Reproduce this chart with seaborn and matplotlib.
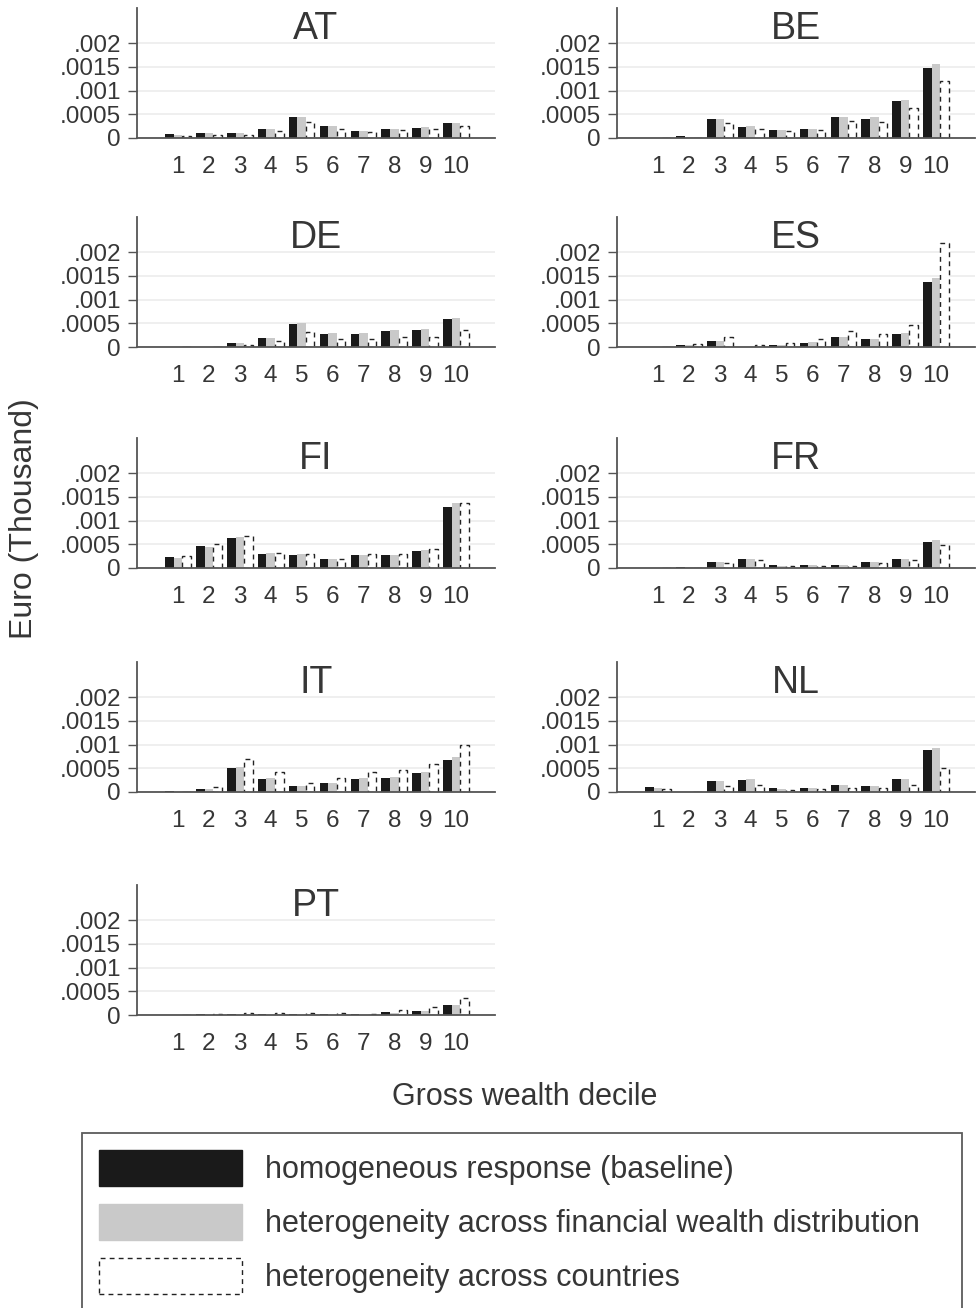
import numpy as np
import pandas as pd
import matplotlib
matplotlib.use("Agg")
import matplotlib.pyplot as plt
import seaborn as sns
from matplotlib.patches import Patch

# ---------------- data ----------------
countries = ["AT", "BE", "DE", "ES", "FI", "FR", "IT", "NL", "PT"]
deciles = ["1", "2", "3", "4", "5", "6", "7", "8", "9", "10"]
series = [
    "homogeneous response (baseline)",
    "heterogeneity across financial wealth distribution",
    "heterogeneity across countries",
]
ytick_vals = [0, 0.0005, 0.001, 0.0015, 0.002]
ytick_labels = ["0", ".0005", ".001", ".0015", ".002"]

AT_base = [0.00008, 0.00010, 0.00010, 0.00018, 0.00044, 0.00026, 0.00015, 0.00019, 0.00022, 0.00031]
AT_fin = [0.00006, 0.00010, 0.00010, 0.00018, 0.00045, 0.00026, 0.00015, 0.00020, 0.00023, 0.00032]
AT_cty = [0.00004, 0.00006, 0.00006, 0.00014, 0.00034, 0.00020, 0.00012, 0.00016, 0.00019, 0.00026]

BE_base = [0.00001, 0.00004, 0.00039, 0.00024, 0.00016, 0.00019, 0.00044, 0.00041, 0.00078, 0.00148]
BE_fin = [0.00001, 0.00002, 0.00039, 0.00026, 0.00016, 0.00019, 0.00045, 0.00044, 0.00081, 0.00157]
BE_cty = [0.00001, 0.00001, 0.00032, 0.00020, 0.00014, 0.00016, 0.00036, 0.00034, 0.00063, 0.00120]

DE_base = [0.0, 0.00001, 0.00009, 0.00020, 0.00049, 0.00028, 0.00028, 0.00034, 0.00036, 0.00059]
DE_fin = [0.0, 0.00001, 0.00008, 0.00020, 0.00051, 0.00030, 0.00030, 0.00036, 0.00038, 0.00061]
DE_cty = [0.0, 0.00001, 0.00004, 0.00013, 0.00031, 0.00017, 0.00017, 0.00022, 0.00022, 0.00035]

ES_base = [0.00001, 0.00004, 0.00013, 0.00001, 0.00004, 0.00009, 0.00021, 0.00016, 0.00028, 0.00138]
ES_fin = [0.00001, 0.00004, 0.00013, 0.00001, 0.00004, 0.00010, 0.00022, 0.00017, 0.00030, 0.00146]
ES_cty = [0.00001, 0.00007, 0.00021, 0.00004, 0.00009, 0.00017, 0.00034, 0.00027, 0.00047, 0.00220]

FI_base = [0.00023, 0.00046, 0.00064, 0.00030, 0.00028, 0.00018, 0.00027, 0.00027, 0.00035, 0.00129]
FI_fin = [0.00022, 0.00045, 0.00066, 0.00031, 0.00029, 0.00019, 0.00028, 0.00028, 0.00038, 0.00137]
FI_cty = [0.00025, 0.00050, 0.00067, 0.00032, 0.00030, 0.00020, 0.00030, 0.00030, 0.00039, 0.00136]

FR_base = [0.00001, 0.00002, 0.00013, 0.00018, 0.00006, 0.00006, 0.00006, 0.00012, 0.00018, 0.00055]
FR_fin = [0.00001, 0.00002, 0.00012, 0.00018, 0.00005, 0.00006, 0.00006, 0.00012, 0.00018, 0.00058]
FR_cty = [0.00001, 0.00001, 0.00011, 0.00016, 0.00005, 0.00005, 0.00005, 0.00011, 0.00016, 0.00048]

IT_base = [0.00002, 0.00006, 0.00050, 0.00027, 0.00012, 0.00019, 0.00027, 0.00030, 0.00039, 0.00068]
IT_fin = [0.00001, 0.00006, 0.00053, 0.00030, 0.00013, 0.00020, 0.00029, 0.00032, 0.00042, 0.00073]
IT_cty = [0.0, 0.00011, 0.00070, 0.00042, 0.00019, 0.00030, 0.00042, 0.00046, 0.00058, 0.00100]

NL_base = [0.00011, 0.00001, 0.00023, 0.00025, 0.00008, 0.00008, 0.00014, 0.00013, 0.00027, 0.00088]
NL_fin = [0.00009, 0.0, 0.00023, 0.00027, 0.00007, 0.00008, 0.00014, 0.00013, 0.00028, 0.00093]
NL_cty = [0.00006, 0.0, 0.00013, 0.00015, 0.00005, 0.00006, 0.00009, 0.00008, 0.00015, 0.00050]

PT_base = [0.0, 0.00002, 0.00002, 0.00002, 0.00002, 0.00002, 0.00002, 0.00006, 0.00009, 0.00021]
PT_fin = [0.0, 0.00001, 0.00001, 0.00001, 0.00001, 0.00001, 0.00001, 0.00005, 0.00008, 0.00022]
PT_cty = [0.0, 0.00002, 0.00005, 0.00005, 0.00005, 0.00004, 0.00003, 0.00010, 0.00016, 0.00035]

data_by_country = {
    "AT": (AT_base, AT_fin, AT_cty), "BE": (BE_base, BE_fin, BE_cty),
    "DE": (DE_base, DE_fin, DE_cty), "ES": (ES_base, ES_fin, ES_cty),
    "FI": (FI_base, FI_fin, FI_cty), "FR": (FR_base, FR_fin, FR_cty),
    "IT": (IT_base, IT_fin, IT_cty), "NL": (NL_base, NL_fin, NL_cty),
    "PT": (PT_base, PT_fin, PT_cty),
}

# ---------------- style ----------------
sns.set_theme(style="white")
plt.rcParams["font.family"] = ["Liberation Sans", "DejaVu Sans"]
TXT = "#363636"
AXC = "#555555"
BLACK = "#1a1a1a"
GRAY = "#c9c9c9"

W, H = 979, 1308
fig = plt.figure(figsize=(W / 100, H / 100), dpi=100)

col_left = [137, 617]
ax_w = 358
ax_h = 130
row_zero = [138, 347, 568, 792, 1015]

for i, c in enumerate(countries):
    r, col = divmod(i, 2)
    x0 = col_left[col]
    y0 = row_zero[r]
    ax = fig.add_axes([x0 / W, 1 - y0 / H, ax_w / W, ax_h / H])
    b, f, d = data_by_country[c]
    df = pd.DataFrame({
        "decile": deciles * 3,
        "value": list(b) + list(f) + list(d),
        "series": [series[0]] * 10 + [series[1]] * 10 + [series[2]] * 10,
    })
    sns.barplot(data=df, x="decile", y="value", hue="series", order=deciles,
                hue_order=series, palette=[BLACK, GRAY, "white"], saturation=1,
                width=0.83, gap=0, errorbar=None, legend=False, ax=ax,
                linewidth=0)
    for bar in ax.containers[2]:
        bar.set_facecolor("white")
        bar.set_edgecolor("#222222")
        bar.set_linestyle((0, (3.5, 3)))
        bar.set_linewidth(1.0)
    ax.set_xlim(-1.33, 10.26)
    ax.set_ylim(0, 0.00274)
    ax.set_yticks(ytick_vals)
    ax.set_yticklabels(ytick_labels)
    ax.set_xlabel("")
    ax.set_ylabel("")
    ax.set_axisbelow(True)
    ax.yaxis.grid(True, color="#ececec", linewidth=1.2)
    ax.xaxis.grid(False)
    for s in ["top", "right"]:
        ax.spines[s].set_visible(False)
    for s in ["left", "bottom"]:
        ax.spines[s].set_color(AXC)
        ax.spines[s].set_linewidth(1.3)
    ax.tick_params(axis="y", left=True, length=6.5, width=1.0, color=AXC,
                   pad=5, labelsize=17.5, labelcolor=TXT)
    ax.tick_params(axis="x", bottom=False, length=0, pad=13, labelsize=17.5,
                   labelcolor=TXT)
    ax.set_facecolor("white")
    ax.text(0.5, 1 - 21 / ax_h, c, transform=ax.transAxes, ha="center",
            va="center", fontsize=27, color=TXT)

fig.text(24 / W, 1 - 519 / H, "Euro (Thousand)", rotation=90, ha="center",
         va="center", fontsize=23, color=TXT)
fig.text(525 / W, 1 - 1097 / H, "Gross wealth decile", ha="center",
         va="center", fontsize=22, color=TXT)

handles = [
    Patch(facecolor=BLACK, edgecolor=BLACK),
    Patch(facecolor=GRAY, edgecolor=GRAY),
    Patch(facecolor="white", edgecolor="#222222", linestyle=(0, (3.5, 3)),
          linewidth=1.0),
]
leg = fig.legend(handles, series, loc="upper left",
                 bbox_to_anchor=(82 / W, 1 - 1133 / H, 880 / W, 0.0),
                 mode="expand", borderaxespad=0, fontsize=22,
                 handlelength=4.7, handleheight=1.45, handletextpad=0.75,
                 labelspacing=0.58, borderpad=0.55, fancybox=False,
                 frameon=True, labelcolor=TXT)
leg.get_frame().set_edgecolor("#333333")
leg.get_frame().set_linewidth(1.3)

fig.savefig("out.png", dpi=100, facecolor="white")
